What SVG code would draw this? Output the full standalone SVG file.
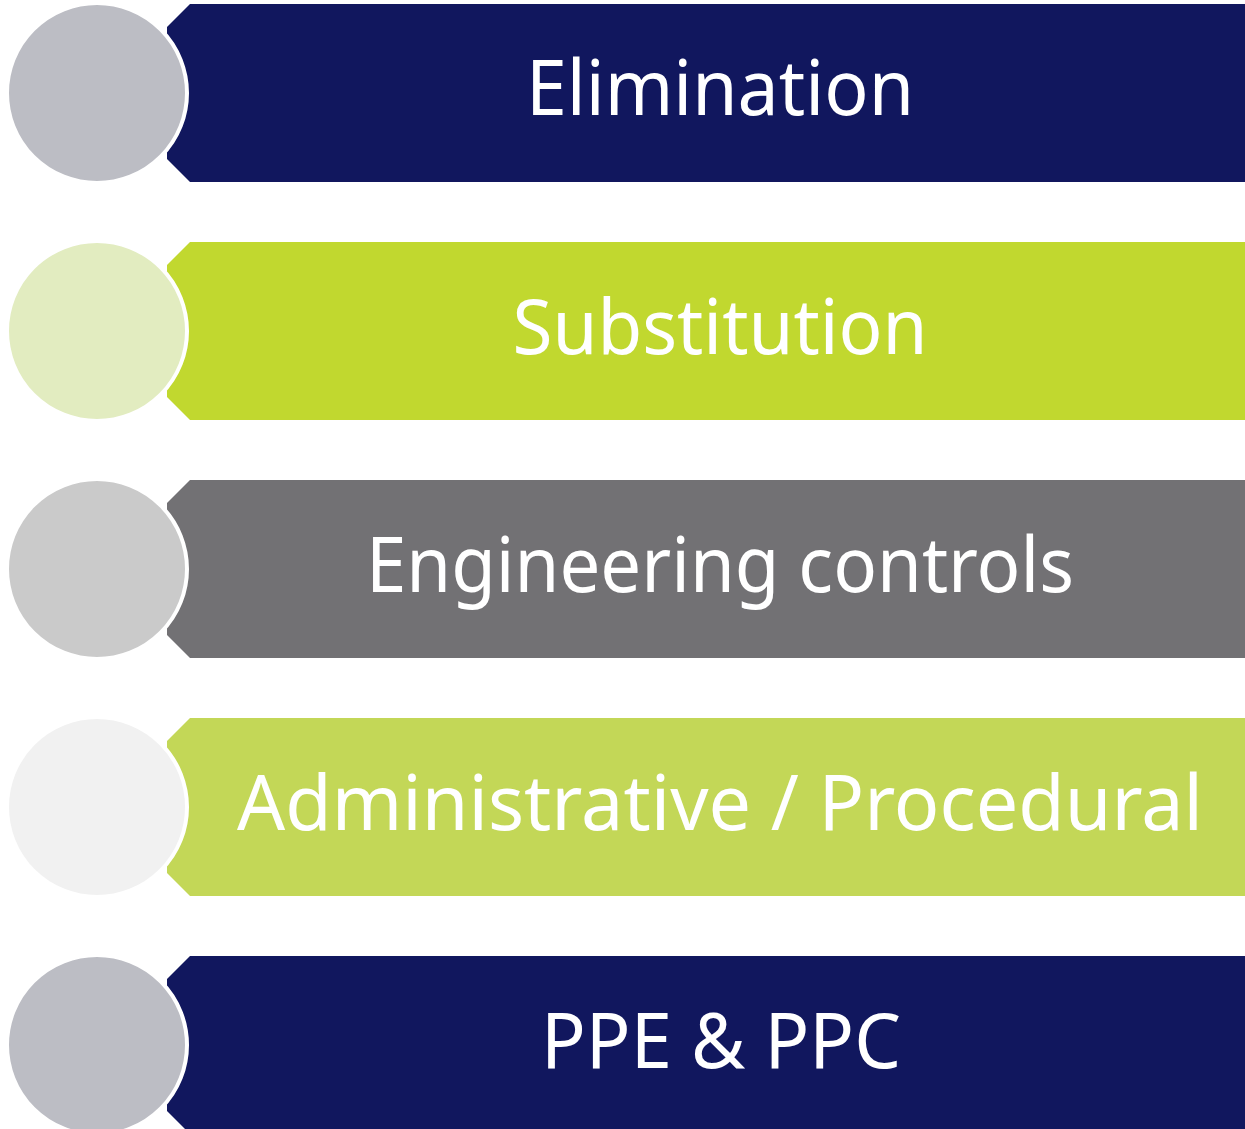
<svg xmlns="http://www.w3.org/2000/svg" width="1245" height="1129" viewBox="0 0 1245 1129">
<style>
.lbl{font-family:"Noto Sans","Open Sans","Liberation Sans",sans-serif;font-size:76px;fill:#FFFFFF;text-anchor:middle}
.dot{stroke:#FFFFFF;stroke-width:4}
</style>
<rect width="1245" height="1129" fill="#FFFFFF"/>
<g id="connectors"></g>
<g id="node-elimination">
<polygon points="190,4 1245,4 1245,182 190,182 167,159 167,27" fill="#11175E"/>
<circle class="dot" cx="97" cy="93" r="90" fill="#BCBDC4"/>
<text class="lbl" x="720" y="115" textLength="388" lengthAdjust="spacingAndGlyphs">Elimination</text>
</g>
<g id="node-substitution">
<polygon points="190,242 1245,242 1245,420 190,420 167,397 167,265" fill="#C1D82F"/>
<circle class="dot" cx="97" cy="331" r="90" fill="#E2ECC0"/>
<text class="lbl" x="720" y="354" textLength="415" lengthAdjust="spacingAndGlyphs">Substitution</text>
</g>
<g id="node-engineering">
<polygon points="190,480 1245,480 1245,658 190,658 167,635 167,503" fill="#727174"/>
<circle class="dot" cx="97" cy="569" r="90" fill="#CACACA"/>
<text class="lbl" x="720" y="592" textLength="708" lengthAdjust="spacingAndGlyphs">Engineering controls</text>
</g>
<g id="node-administrative">
<polygon points="190,718 1245,718 1245,896 190,896 167,873 167,741" fill="#C3D757"/>
<circle class="dot" cx="97" cy="807" r="90" fill="#F1F1F1"/>
<text class="lbl" x="720" y="830" textLength="966" lengthAdjust="spacingAndGlyphs">Administrative / Procedural</text>
</g>
<g id="node-ppe">
<polygon points="190,956 1245,956 1245,1134 190,1134 167,1111 167,979" fill="#11175E"/>
<circle class="dot" cx="97" cy="1045" r="90" fill="#BCBDC4"/>
<text class="lbl" x="721" y="1068" textLength="360" lengthAdjust="spacingAndGlyphs">PPE &amp; PPC</text>
</g>
</svg>
